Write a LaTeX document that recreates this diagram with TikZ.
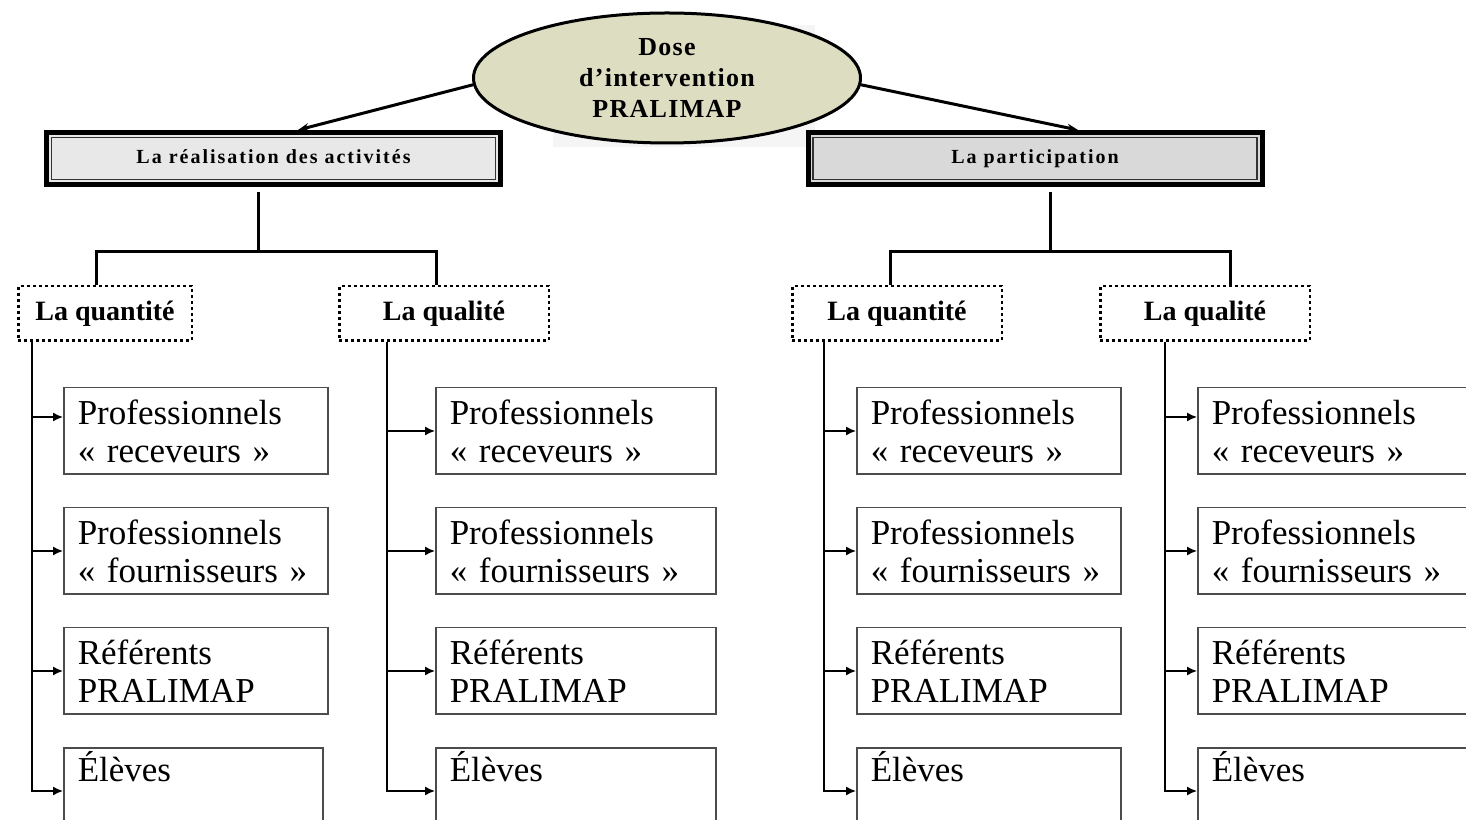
\documentclass[tikz,border=0pt]{standalone}
\usepackage{fontspec}
\setmainfont{Liberation Serif}
\newfontfamily\spacedfont[LetterSpace=10]{Liberation Serif}
\newfontfamily\ovalfont[LetterSpace=5]{Liberation Serif}
\usetikzlibrary{positioning,shapes.geometric,arrows.meta}
\definecolor{ovalfill}{RGB}{221,221,194}
\definecolor{headlight}{RGB}{232,232,232}
\definecolor{headdark}{RGB}{217,217,217}
\def\prof{Professionnels}
\def\recv{\prof\\«~receveurs~»}
\def\four{\prof\\«~fournisseurs~»}
\def\refp{Référents\\PRALIMAP}
\def\elev{Élèves\\\strut}

\begin{document}
\begin{tikzpicture}[x=1pt,y=1pt,
	oval/.style={draw, ellipse, line width=3pt, fill=ovalfill, minimum width=387pt, minimum height=130pt, inner sep=0pt, align=center, font=\ovalfont\bfseries\fontsize{26}{31}\selectfont},
	headbox/.style={draw, line width=5pt, minimum width=454pt, minimum height=52pt, text height=14pt, text depth=4pt, font=\spacedfont\bfseries\fontsize{20}{24}\selectfont},
	subbox/.style={draw, line width=2.5pt, dash pattern=on 3pt off 3pt, minimum width=209.5pt, minimum height=54.5pt, font=\bfseries\fontsize{28}{32}\selectfont},
	itembox/.style={draw=black!70, line width=1.5pt, minimum height=86.5pt, text width=236pt, inner xsep=14pt, align=left, font=\fontsize{35}{38}\selectfont},
	widebox/.style={itembox, text width=252pt},
	tree/.style={line width=3pt},
	branch/.style={line width=1.5pt, -{Latex[length=10pt,width=9pt]}},
	node distance=32pt]
				\path[use as bounding box, clip] (0,0) rectangle (1466,819);
				\fill[black!4] (553,672) rectangle (815,794);
				\node[oval] (el) at (667,741) {Dose\\d’intervention\\PRALIMAP};
				\node[headbox, fill=headlight] (hl) at (273.5,660.5) {La réalisation des activités};
				\node[headbox, fill=headdark] (hr) at (1035,660.5) {La participation};
				\draw[line width=1.2pt, black!80] ([shift={(7.5pt,-7.5pt)}]hl.north west) rectangle ([shift={(-7.5pt,7.5pt)}]hl.south east);
				\draw[line width=1.2pt, black!80] ([shift={(7.5pt,-7.5pt)}]hr.north west) rectangle ([shift={(-7.5pt,7.5pt)}]hr.south east);
				\draw[tree, -{Stealth[length=11pt,width=8pt]}] (el.182) -- ([xshift=24.5pt]hl.north);
				\draw[tree, -{Stealth[length=11pt,width=8pt]}] (el.358) -- ([xshift=43pt]hr.north);

				\node[subbox, minimum width=173.5pt] (qt1) at (105,505.5) {La quantité};
				\node[subbox] (ql1) at (444,505.5) {La qualité};
				\node[subbox] (qt2) at (897,505.5) {La quantité};
				\node[subbox] (ql2) at (1205,505.5) {La qualité};
				\draw[tree] ([xshift=-15.5pt,yshift=-5pt]hl.south) -- ++(0,-60) coordinate (j1);
				\draw[tree] ([xshift=-9pt]qt1.north) |- (j1) -| ([xshift=-8pt]ql1.north);
				\draw[tree] ([xshift=15pt,yshift=-5pt]hr.south) -- ++(0,-60) coordinate (j2);
				\draw[tree] ([xshift=-7pt]qt2.north) |- (j2) -| ([xshift=25pt]ql2.north);

				\node[itembox, anchor=north west] (b11) at (63,432) {\recv};
				\node[itembox, below=of b11.south west, anchor=north west] (b12) {\four};
				\node[itembox, below=of b12.south west, anchor=north west] (b13) {\refp};
				\node[itembox, text width=231pt, below=of b13.south west, anchor=north west] (b14) {\elev};
				\node[widebox, anchor=north west] (b21) at (435,432) {\recv};
				\node[widebox, below=of b21.south west, anchor=north west] (b22) {\four};
				\node[widebox, below=of b22.south west, anchor=north west] (b23) {\refp};
				\node[widebox, below=of b23.south west, anchor=north west] (b24) {\elev};
				\node[itembox, anchor=north west] (b31) at (856,432) {\recv};
				\node[itembox, below=of b31.south west, anchor=north west] (b32) {\four};
				\node[itembox, below=of b32.south west, anchor=north west] (b33) {\refp};
				\node[itembox, below=of b33.south west, anchor=north west] (b34) {\elev};
				\node[widebox, anchor=north west] (b41) at (1197,432) {\recv};
				\node[widebox, below=of b41.south west, anchor=north west] (b42) {\four};
				\node[widebox, below=of b42.south west, anchor=north west] (b43) {\refp};
				\node[widebox, below=of b43.south west, anchor=north west] (b44) {\elev};

				\coordinate (t1) at ([xshift=15pt]qt1.south west);
				\coordinate (t2) at ([xshift=49pt]ql1.south west);
				\coordinate (t3) at ([xshift=33pt]qt2.south west);
				\coordinate (t4) at ([xshift=66pt]ql2.south west);
				\draw[branch] (t1) |- ([yshift=14pt]b11.west);
				\draw[branch] (t1) |- (b12.west);
				\draw[branch] (t1) |- (b13.west);
				\draw[branch] (t1) |- (b14.west);
				\draw[branch] (t2) |- (b21.west);
				\draw[branch] (t2) |- (b22.west);
				\draw[branch] (t2) |- (b23.west);
				\draw[branch] (t2) |- (b24.west);
				\draw[branch] (t3) |- (b31.west);
				\draw[branch] (t3) |- (b32.west);
				\draw[branch] (t3) |- (b33.west);
				\draw[branch] (t3) |- (b34.west);
				\draw[branch] (t4) |- ([yshift=14pt]b41.west);
				\draw[branch] (t4) |- (b42.west);
				\draw[branch] (t4) |- (b43.west);
				\draw[branch] (t4) |- (b44.west);
			\end{tikzpicture}
\end{document}
